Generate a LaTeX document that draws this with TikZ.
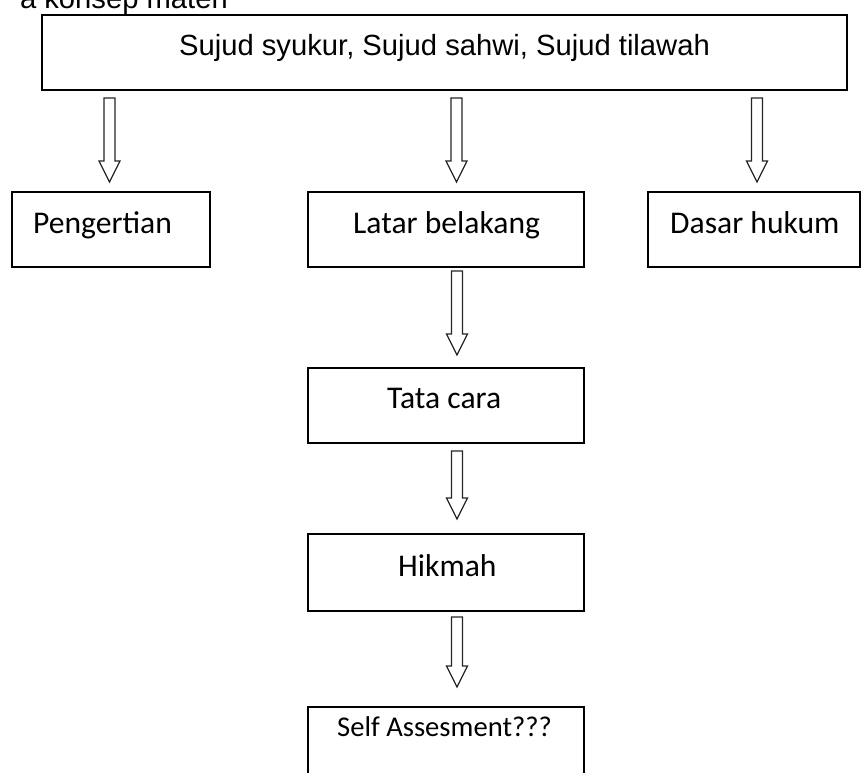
\documentclass[tikz,border=0pt]{standalone}
\usepackage{fontspec}
\usetikzlibrary{calc}
\newfontfamily\arialf{Liberation Sans}
\newfontfamily\calib{Carlito}
\tikzset{
  box/.style={draw=black, line width=1.6pt, rectangle, inner sep=0pt, fill=white},
  harrow/.style={draw=black!85, line width=1.3pt, fill=white, line join=miter},
  lblC/.style={font=\calib\fontsize{31.6}{38}\selectfont, inner sep=0pt, anchor=base west},
  lblS/.style={font=\calib\fontsize{28.6}{34}\selectfont, inner sep=0pt, anchor=base west},
  lblA/.style={font=\arialf\fontsize{29.2}{35}\selectfont, inner sep=0pt}
}
\newcommand{\hollowarrow}[2]{%
  \draw[harrow] ($(#1)+(-5.5,0)$) -- ($(#2)+(-5.5,-21)$) -- ($(#2)+(-10.5,-21)$) -- (#2)
    -- ($(#2)+(10.5,-21)$) -- ($(#2)+(5.5,-21)$) -- ($(#1)+(5.5,0)$) -- cycle;}
\begin{document}
\begin{tikzpicture}[x=1pt,y=-1pt]
\useasboundingbox (0,0) rectangle (861,772);
\clip (0,0) rectangle (861,772);
\fill[white] (0,0) rectangle (861,772);
% title (cut off at top)
\node[lblA, anchor=base east] (title) at (228,8.5) {a konsep materi};
% boxes
\node[box, minimum width=805pt, minimum height=75pt] (top) at (444.5,52.5) {};
\node[lblA, anchor=base] (topT) at (444.5,55) {Sujud syukur, Sujud sahwi, Sujud tilawah};
\node[box, minimum width=198pt, minimum height=75pt] (peng) at (111,229.5) {};
\node[lblC] (pengT) at (33,233) {Pengertian};
\node[box, minimum width=276pt, minimum height=75pt] (latar) at (446,229.5) {};
\node[lblC] (latarT) at (353,233) {Latar belakang};
\node[box, minimum width=212pt, minimum height=75pt] (dasar) at (754,229.5) {};
\node[lblC] (dasarT) at (670,233) {Dasar hukum};
\node[box, minimum width=276pt, minimum height=75pt] (tata) at (446,405.5) {};
\node[lblC] (tataT) at (387,408) {Tata cara};
\node[box, minimum width=276pt, minimum height=77pt] (hikmah) at (446,572.5) {};
\node[lblC] (hikmahT) at (398,576) {Hikmah};
\node[box, minimum width=276pt, minimum height=75pt] (self) at (446,744.5) {};
\node[lblS] (selfT) at (337,736) {Self Assesment???};
% arrow end points
\coordinate (a1s) at (109.5,98);  \coordinate (a1e) at (109.5,182);
\coordinate (a2s) at (456.5,98);  \coordinate (a2e) at (456.5,182);
\coordinate (a3s) at (757,98);    \coordinate (a3e) at (757,182);
\coordinate (a4s) at (457,271);   \coordinate (a4e) at (457,355);
\coordinate (a5s) at (457,451);   \coordinate (a5e) at (457,519);
\coordinate (a6s) at (457,617);   \coordinate (a6e) at (457,687);
\hollowarrow{a1s}{a1e}
\hollowarrow{a2s}{a2e}
\hollowarrow{a3s}{a3e}
\hollowarrow{a4s}{a4e}
\hollowarrow{a5s}{a5e}
\hollowarrow{a6s}{a6e}
\end{tikzpicture}
\end{document}
